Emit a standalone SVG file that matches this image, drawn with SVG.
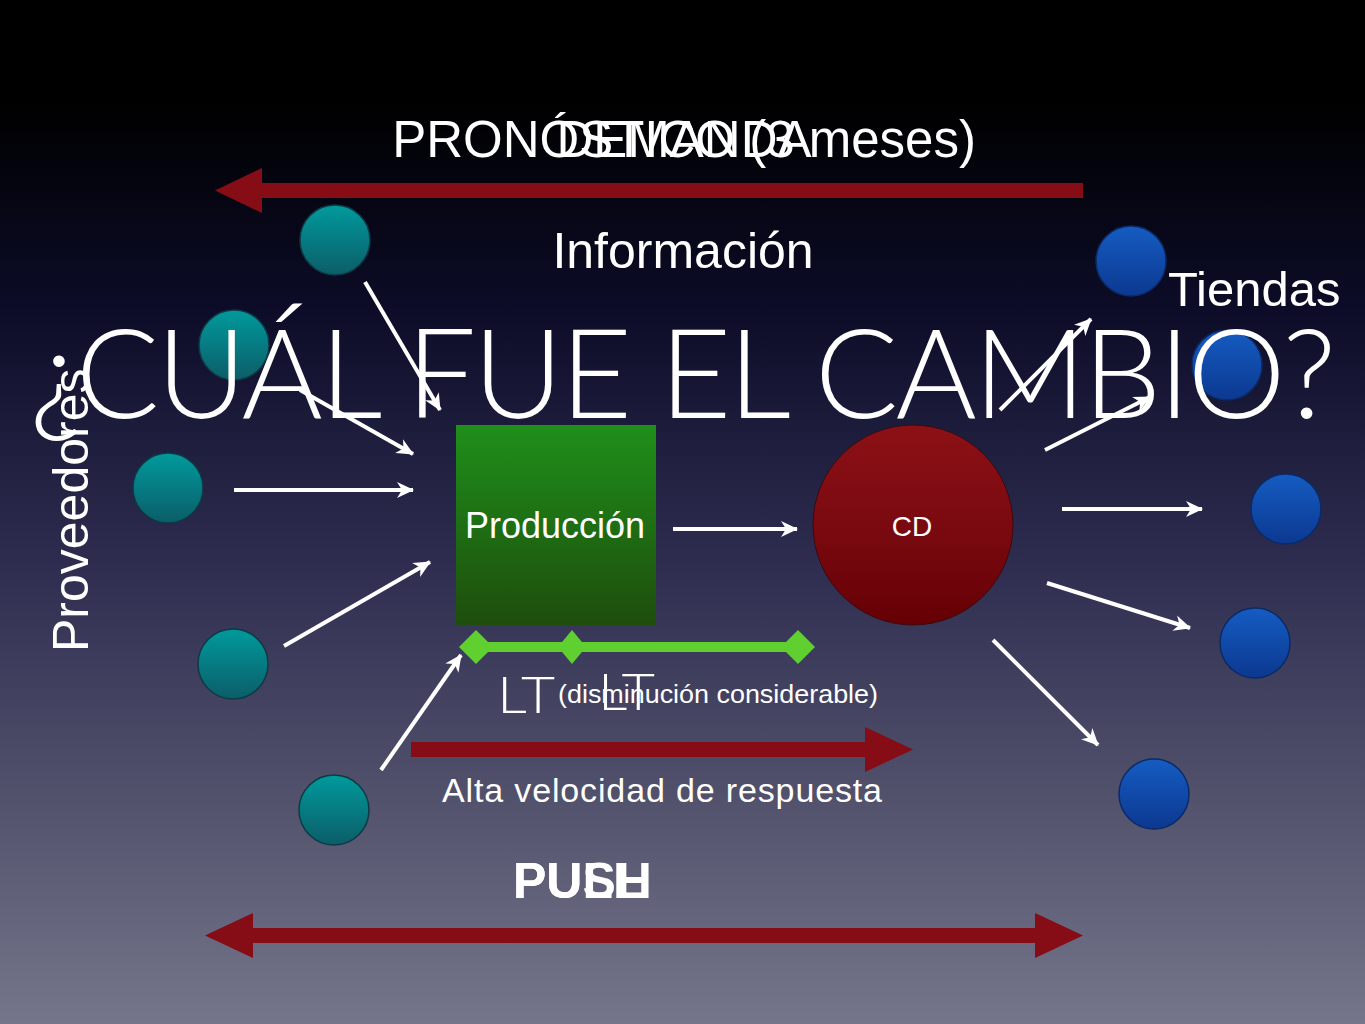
<svg xmlns="http://www.w3.org/2000/svg" width="1365" height="1024" viewBox="0 0 1365 1024">
<style>
.t{font-family:"Liberation Sans",Arial,sans-serif;fill:#fff}
.thin{font-family:Lato,"Open Sans",sans-serif;font-weight:300;fill:#fff}
.arr{stroke:#fff;stroke-width:4;fill:none;marker-end:url(#ah)}
.big{fill:#860c15}
.teal{fill:url(#gTeal);stroke:#0d3a44;stroke-width:1.5}
.blue{fill:url(#gBlue);stroke:#0b2a66;stroke-width:1.5}
</style>
<defs>
<linearGradient id="bg" x1="0" y1="0" x2="0" y2="1">
<stop offset="0" stop-color="#000"/>
<stop offset="0.1" stop-color="#000"/>
<stop offset="0.3" stop-color="#0c0c28"/>
<stop offset="0.55" stop-color="#2e2d50"/>
<stop offset="0.8" stop-color="#55556f"/>
<stop offset="1" stop-color="#75758b"/>
</linearGradient>
<linearGradient id="gTeal" x1="0" y1="0" x2="0" y2="1">
<stop offset="0" stop-color="#009a9c"/>
<stop offset="1" stop-color="#0c5d68"/>
</linearGradient>
<linearGradient id="gBlue" x1="0" y1="0" x2="0" y2="1">
<stop offset="0" stop-color="#155cc2"/>
<stop offset="1" stop-color="#0c3890"/>
</linearGradient>
<linearGradient id="gGreen" x1="0" y1="0" x2="0" y2="1">
<stop offset="0" stop-color="#1f8f1a"/>
<stop offset="1" stop-color="#1e4d0d"/>
</linearGradient>
<linearGradient id="gRed" x1="0" y1="0" x2="0" y2="1">
<stop offset="0" stop-color="#8c1116"/>
<stop offset="0.5" stop-color="#7a0a10"/>
<stop offset="1" stop-color="#650005"/>
</linearGradient>
<marker id="ah" markerUnits="userSpaceOnUse" markerWidth="18" markerHeight="18" viewBox="0 0 18 18" refX="16" refY="9" orient="auto">
<path d="M0,1 L17,9 L0,17 L5,9 Z" fill="#fff"/>
</marker>
</defs>
<rect width="1365" height="1024" fill="url(#bg)"/>

<g id="flecha-info">
<rect class="big" x="255" y="183" width="828" height="15"/>
<polygon class="big" points="215,190.5 262,168 262,213"/>
</g>
<g id="flecha-velocidad">
<rect class="big" x="411" y="742" width="460" height="15"/>
<polygon class="big" points="913,749.5 865,727 865,772"/>
</g>
<g id="flecha-push-pull">
<rect class="big" x="240" y="928" width="806" height="15"/>
<polygon class="big" points="205,935.5 253,913 253,958"/>
<polygon class="big" points="1083,935.5 1035,913 1035,958"/>
</g>

<g id="proveedores">
<circle class="teal" cx="335" cy="240" r="35"/>
<circle class="teal" cx="234" cy="345" r="35"/>
<circle class="teal" cx="168" cy="488" r="35"/>
<circle class="teal" cx="233" cy="664" r="35"/>
<circle class="teal" cx="334" cy="810" r="35"/>
</g>
<g id="tiendas">
<circle class="blue" cx="1131" cy="261" r="35"/>
<circle class="blue" cx="1227" cy="365" r="35"/>
<circle class="blue" cx="1286" cy="509" r="35"/>
<circle class="blue" cx="1255" cy="643" r="35"/>
<circle class="blue" cx="1154" cy="794" r="35"/>
</g>
<g id="produccion">
<rect x="456" y="425" width="200" height="200" fill="url(#gGreen)"/>
<text class="t" x="555" y="538" font-size="36" text-anchor="middle">Producción</text>
</g>
<g id="cd">
<circle cx="913" cy="525" r="100" fill="url(#gRed)" stroke="#3a0a10" stroke-width="1"/>
<text class="t" x="912" y="536" font-size="28" text-anchor="middle">CD</text>
</g>

<g id="titulo">
<text class="thin" x="30" y="418" font-size="124" textLength="1306" lengthAdjust="spacing">¿CUÁL FUE EL CAMBIO?</text>
</g>

<g id="connectors">
<line class="arr" x1="365" y1="282" x2="440" y2="410"/>
<line class="arr" x1="300" y1="390" x2="413" y2="454"/>
<line class="arr" x1="234" y1="490" x2="413" y2="490"/>
<line class="arr" x1="284" y1="646" x2="430" y2="562"/>
<line class="arr" x1="381" y1="770" x2="461" y2="655"/>
<line class="arr" x1="673" y1="529" x2="797" y2="529"/>
<line class="arr" x1="1000" y1="410" x2="1091" y2="319"/>
<line class="arr" x1="1045" y1="450" x2="1150" y2="397"/>
<line class="arr" x1="1062" y1="509" x2="1202" y2="509"/>
<line class="arr" x1="1047" y1="583" x2="1190" y2="628"/>
<line class="arr" x1="993" y1="640" x2="1098" y2="745"/>
</g>

<g id="lead-time">
<rect x="474" y="642" width="325" height="10" fill="#5fd030"/>
<polygon points="476,630 493,647 476,664 459,647" fill="#5fd030"/>
<polygon points="572,630 586,647 572,664 558,647" fill="#5fd030"/>
<polygon points="798,630 815,647 798,664 781,647" fill="#5fd030"/>
<text class="thin" x="497" y="713" font-size="52" textLength="58" lengthAdjust="spacingAndGlyphs">LT</text>
<text class="thin" x="598" y="710" font-size="52" textLength="57" lengthAdjust="spacingAndGlyphs">LT</text>
<text class="t" x="558" y="703" font-size="26" textLength="320" lengthAdjust="spacingAndGlyphs">(disminución considerable)</text>
</g>

<g id="textos">
<text class="t" x="684" y="157" font-size="51" text-anchor="middle">PRONÓSTICO (3 meses)</text>
<text class="t" x="684" y="157" font-size="51" text-anchor="middle">DEMANDA</text>
<text class="t" x="683" y="268" font-size="50" text-anchor="middle">Información</text>
<text class="t" x="1168" y="306" font-size="49">Tiendas</text>
<text class="t" font-size="50" transform="translate(88,652) rotate(-90)">Proveedores</text>
<text class="t" x="442" y="802" font-size="34" textLength="440" lengthAdjust="spacing">Alta velocidad de respuesta</text>
<text class="t" x="513" y="898" font-size="50" font-weight="bold">PUSH</text>
<text class="t" x="513" y="898" font-size="50" font-weight="bold">PULL</text>
</g>
</svg>
